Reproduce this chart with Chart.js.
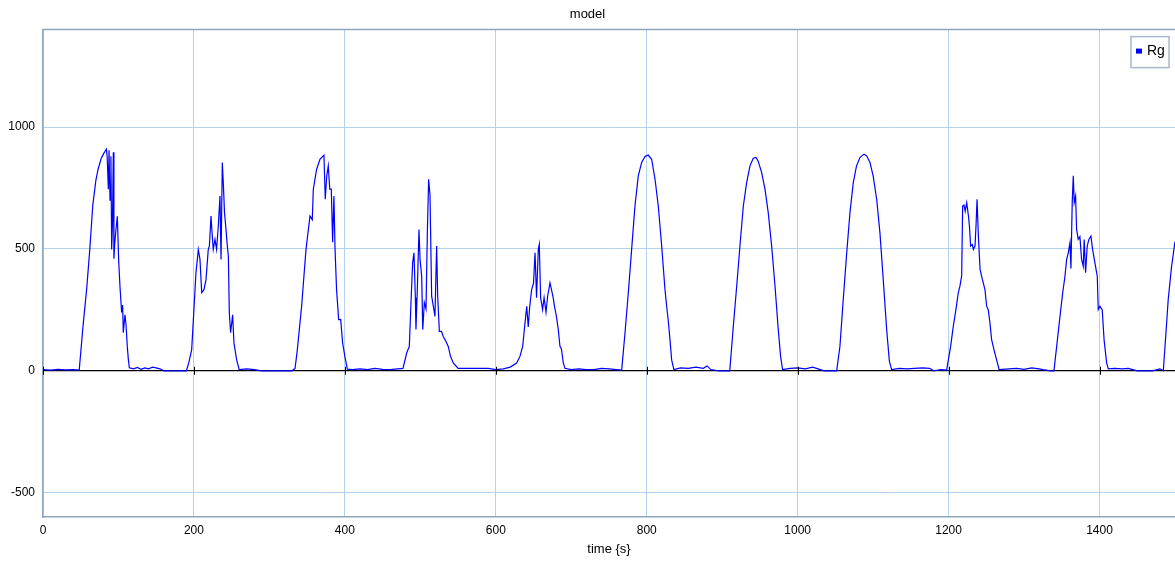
<!DOCTYPE html>
<html>
<head>
<meta charset="utf-8">
<script src="https://cdn.jsdelivr.net/npm/chart.js@4"></script>
<style>
  body { margin: 0; background: #fff; }
  #wrap { width: 1175px; height: 561px; }
</style>
</head>
<body>
<div id="wrap"><canvas id="modelChart"></canvas></div>
<script>
// time (s) and Rg values, one line per day
const timeS = [
    0, 10, 20, 30, 40, 48,
    53, 58, 62, 66, 70, 73, 77, 80, 82, 84,
    85, 86.6, 87.5, 88.8, 90, 91, 92, 93.2, 94, 95,
    96.7, 98.5, 100.3, 102, 104.2, 105.5, 106.4, 108.6, 110, 111.7,
    113, 114.4, 120, 125, 130, 135, 140, 145, 150, 155,
    160, 175, 190,
    193, 197, 200, 202.7, 205.8, 208, 210.3, 213.3, 216, 219,
    220.5, 222.6, 224.3, 225.6, 227.9, 230, 232.3, 234.5, 235.9, 237.6,
    239, 240.5, 242.5, 244, 245.6, 246.9, 248.6, 251.3, 253, 256.6,
    260, 270, 280, 290, 330,
    334, 337, 342.7, 348.5, 353.8, 356.8, 358.2, 362.6, 367, 372.3,
    374, 376, 378, 380, 382, 383.8, 385.5, 387, 389, 391.8,
    394.5, 397, 400, 403.3, 410, 420, 430, 440, 450, 460,
    470, 477,
    482, 485.4, 487.6, 489.8, 491.6, 493.4, 494.2, 496, 498.2, 499.6,
    501.8, 503.2, 505.3, 507.5, 509.3, 511, 512.8, 515, 517.2, 519.4,
    521.6, 523, 525.2, 528, 530.4, 534, 537, 540, 543.7, 550,
    560, 570, 580, 590, 600, 610, 619,
    627.6, 632, 635.6, 638.7, 641, 643, 645, 647.5, 650, 652,
    654, 656.3, 657.6, 659.4, 662, 664, 666.5, 668.7, 671.8, 674,
    676, 678, 680, 682.8, 685, 687, 689.4, 691.6, 700, 710,
    720, 730, 740, 750, 760, 766.8,
    771.2, 775.6, 780, 784.4, 788.8, 793.3, 797.7, 802, 806.5, 811,
    815.3, 819.8, 824.2, 826.4, 828.6, 830.8, 833, 836, 845, 855,
    865, 875, 880, 885, 895, 910,
    914.7, 919.2, 923.5, 928, 932.4, 936.8, 941.2, 944.8, 947.7, 952.3,
    956.7, 961, 965.5, 970, 974.3, 977.4, 980, 990, 1000, 1010,
    1020, 1027, 1035, 1051.7,
    1056, 1060.4, 1065, 1069.3, 1073.7, 1078, 1082.5, 1087.8, 1091.4, 1095.8,
    1100, 1104.7, 1109, 1113.4, 1117.9, 1121.5, 1124.5, 1135, 1145, 1155,
    1165, 1175, 1180, 1190, 1197.4,
    1202.7, 1206.2, 1209.7, 1212.8, 1215, 1217.3, 1218.6, 1220.4, 1222, 1224,
    1226.3, 1227.6, 1229.2, 1231.5, 1232.8, 1235, 1236.4, 1237.7, 1239.5, 1241.7,
    1244.8, 1248.2, 1250.4, 1252.6, 1254.8, 1257, 1260.2, 1263.6, 1267, 1280,
    1290, 1300, 1310, 1320, 1325, 1335, 1339.6,
    1343.2, 1347.6, 1351.2, 1354.2, 1356.4, 1358.6, 1360.8, 1362.1, 1363.8, 1365.2,
    1366.5, 1368.3, 1369.6, 1371.8, 1374, 1376.2, 1378.4, 1379.7, 1381.5, 1383.7,
    1385.9, 1388.6, 1390.8, 1393.9, 1397, 1398.3, 1400.5, 1403.6, 1406, 1409.4,
    1411.6, 1420, 1430, 1438, 1450, 1470, 1480, 1484.5,
    1488, 1491, 1495.5, 1500
];

const rgValues = [
    5, 3, 6, 4, 5, 3,
    182, 340, 498, 680, 780, 827, 870, 889, 900, 909,
    880, 745, 905, 700, 880, 498, 600, 897, 460, 520,
    580, 634, 450, 346, 239, 270, 156, 230, 190, 99,
    50, 12, 8, 14, 6, 12, 8, 15, 12, 8,
    0, 0, 0,
    30, 86, 251, 403, 498, 457, 321, 333, 374, 498,
    512, 635, 553, 498, 539, 498, 594, 717, 457, 855,
    765, 650, 580, 520, 470, 237, 156, 230, 115, 45,
    5, 8, 5, 0, 0,
    10, 86, 265, 498, 635, 620, 745, 827, 868, 885,
    704, 800, 841, 745, 745, 527, 717, 498, 333, 210,
    210, 115, 59, 7, 5, 8, 5, 10, 6, 5,
    8, 10,
    74, 100, 278, 443, 484, 300, 169, 333, 580, 457,
    388, 169, 280, 254, 567, 786, 720, 306, 265, 223,
    512, 306, 162, 162, 141, 120, 100, 59, 32, 10,
    10, 10, 10, 10, 5, 8, 15,
    32, 59, 100, 196, 265, 180, 265, 333, 360, 484,
    300, 498, 519, 300, 251, 300, 240, 306, 361, 330,
    300, 260, 230, 169, 100, 90, 32, 10, 5, 8,
    5, 5, 10, 8, 5, 3,
    155, 320, 498, 676, 800, 855, 879, 885, 868, 786,
    676, 512, 333, 265, 203, 128, 45, 5, 12, 10,
    15, 10, 20, 5, 0, 0,
    182, 347, 512, 676, 772, 841, 872, 875, 860, 813,
    745, 649, 512, 347, 169, 59, 5, 10, 12, 8,
    15, 8, 0, 0,
    100, 292, 484, 649, 772, 841, 875, 889, 882, 855,
    800, 704, 567, 374, 170, 40, 5, 10, 8, 10,
    12, 10, 0, 5, 3,
    100, 182, 251, 320, 347, 388, 676, 680, 655, 690,
    635, 594, 512, 518, 498, 512, 600, 704, 550, 416,
    374, 333, 265, 250, 196, 128, 86, 45, 5, 8,
    10, 6, 12, 8, 5, 0, 0,
    100, 223, 320, 388, 457, 484, 525, 420, 690, 800,
    690, 717, 580, 539, 550, 457, 429, 539, 402, 512,
    539, 553, 498, 443, 388, 251, 265, 250, 128, 32,
    8, 10, 8, 10, 0, 0, 8, 0,
    155, 292, 429, 530
];

const xTicks = [0, 200, 400, 600, 800, 1000, 1200, 1400];
const yTicks = [-500, 0, 500, 1000];

const gridBlue = '#b3d1f1';
const frameColor = '#8fa4bd';
const fontStack = "'Liberation Sans Narrow', 'Liberation Sans', Arial, sans-serif";

Chart.defaults.font.family = fontStack;
Chart.defaults.font.size = 12;
Chart.defaults.color = '#000';

// top frame line, zero-line tick marks and the boxed legend
const frameExtras = {
    id: 'frameExtras',
    afterDraw(chart) {
        const ctx = chart.ctx;
        const area = chart.chartArea;
        const xs = chart.scales.x;
        const ys = chart.scales.y;
        ctx.save();
        ctx.strokeStyle = frameColor;
        ctx.lineWidth = 1.5;
        ctx.beginPath();
        ctx.moveTo(area.left, area.top);
        ctx.lineTo(area.right, area.top);
        ctx.stroke();

        const y0 = ys.getPixelForValue(0);
        ctx.strokeStyle = '#000';
        ctx.lineWidth = 1;
        xTicks.forEach(v => {
            const px = Math.round(xs.getPixelForValue(v)) + 0.5;
            ctx.beginPath();
            ctx.moveTo(px, y0 - 4);
            ctx.lineTo(px, y0 + 4);
            ctx.stroke();
        });

        const ds = chart.data.datasets[0];
        const bx = area.right - 44, by = area.top + 7, bw = 38, bh = 31;
        ctx.fillStyle = '#fff';
        ctx.fillRect(bx, by, bw, bh);
        ctx.strokeStyle = '#a8b8cc';
        ctx.lineWidth = 1.5;
        ctx.strokeRect(bx, by, bw, bh);
        ctx.fillStyle = ds.borderColor;
        ctx.fillRect(bx + 5, by + 12, 6, 5);
        ctx.fillStyle = '#000';
        ctx.font = '14px ' + fontStack;
        ctx.textBaseline = 'middle';
        ctx.fillText(ds.label, bx + 16, by + 15);
        ctx.restore();
    }
};

new Chart(document.getElementById('modelChart').getContext('2d'), {
    type: 'line',
    data: {
        datasets: [{
            label: 'Rg',
            data: timeS.map((t, i) => ({ x: t, y: rgValues[i] })),
            borderColor: '#0000ff',
            borderWidth: 1.2,
            pointRadius: 0,
            tension: 0,
            fill: false
        }]
    },
    options: {
        responsive: true,
        maintainAspectRatio: false,
        animation: false,
        layout: { padding: 0 },
        plugins: {
            legend: { display: false },
            tooltip: { enabled: false },
            title: {
                display: true,
                text: 'model',
                font: { size: 13, weight: 'normal' },
                padding: { top: 7, bottom: 7 }
            }
        },
        scales: {
            x: {
                type: 'linear',
                min: 0,
                max: 1500,
                afterBuildTicks: s => { s.ticks = xTicks.map(v => ({ value: v })); },
                afterFit: s => { s.height = 44; },
                grid: { color: gridBlue, lineWidth: 1, drawTicks: false },
                border: { color: frameColor, width: 1.5 },
                ticks: { padding: 6, maxRotation: 0, callback: v => String(v) },
                title: { display: true, text: 'time {s}', font: { size: 13 }, padding: { top: 0, bottom: 4 } }
            },
            y: {
                min: -600,
                max: 1400,
                afterBuildTicks: s => { s.ticks = yTicks.map(v => ({ value: v })); },
                afterFit: s => { s.width = 43; },
                grid: {
                    color: c => (c.tick && c.tick.value === 0) ? '#000' : gridBlue,
                    lineWidth: c => (c.tick && c.tick.value === 0) ? 1.3 : 1,
                    drawTicks: false
                },
                border: { color: frameColor, width: 1.5 },
                ticks: { padding: 8, callback: v => String(v) }
            }
        }
    },
    plugins: [frameExtras]
});
</script>
</body>
</html>
